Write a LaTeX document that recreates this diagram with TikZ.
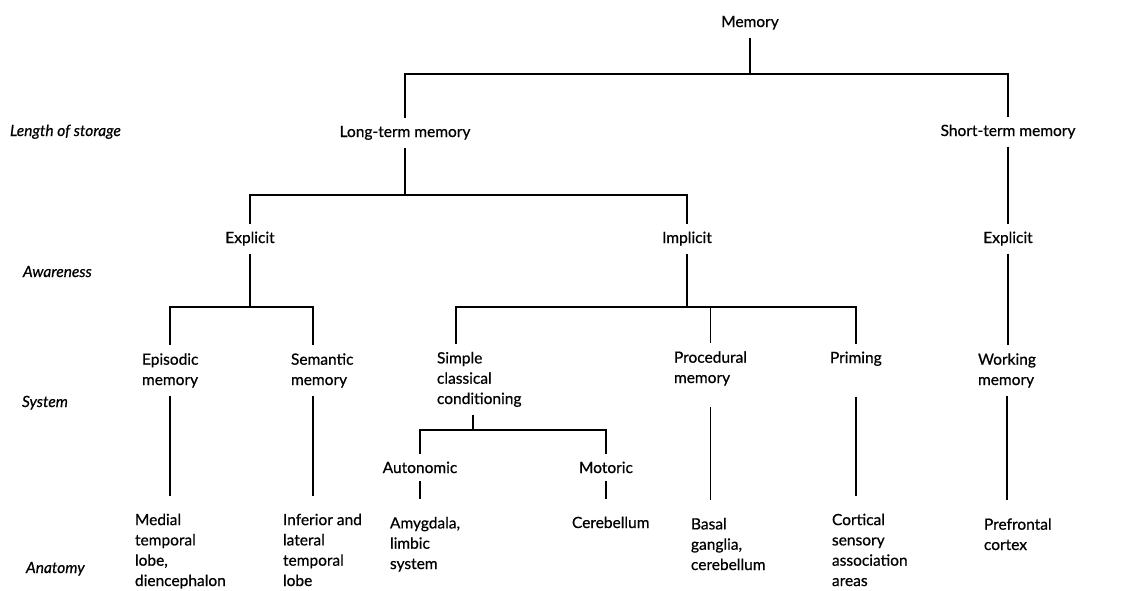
\documentclass[tikz,border=0pt]{standalone}
\usepackage{fontspec}
\setmainfont{Lato}[FakeBold=0.6]
\usetikzlibrary{positioning}
\tikzset{
  tag/.style={inner sep=0pt, outer xsep=0pt, outer ysep=8pt,
    font=\fontsize{15.5}{20.3}\selectfont},
}

\begin{document}
\begin{tikzpicture}[x=1pt, y=-1pt,
  level/.style={tag, anchor=base},
  sys/.style={tag, align=left, anchor=base west},
  area/.style={sys, outer ysep=18pt},
  rowlabel/.style={tag, anchor=base west, font=\fontsize{15.5}{20.3}\selectfont\itshape},
  link/.style={line width=1.8pt}
]
\useasboundingbox (0,0) rectangle (1143,590);

% Row labels
\node[rowlabel] (storage) at (10, 136) {Length of storage};
\node[rowlabel] (awareness) at (23, 277) {Awareness};
\node[rowlabel] (system) at (22, 407) {System};
\node[rowlabel] (anatomy) at (26, 573) {Anatomy};

% Bars
\coordinate (bar0) at (0, 74);
\coordinate (bar1) at (0, 195);
\coordinate (bar2) at (0, 307);
\coordinate (bar3) at (0, 430);

% Storage and awareness
\node[level] (memory) at (750, 27) {Memory};
\node[level] (ltm) at (405, 137) {Long-term memory};
\node[level] (stm) at (1008, 136) {Short-term memory};
\node[level] (explicitL) at (250, 243) {Explicit};
\node[level] (implicit) at (687, 243) {Implicit};
\node[level] (explicitR) at (1008, 243) {Explicit};

% Systems (last line on the baseline)
\node[sys] (episodic) at (142, 385) {Episodic\\memory};
\node[sys] (semantic) at (291, 385) {Semantic\\memory};
\node[sys] (simple) at (437, 404) {Simple\\classical\\conditioning};
\node[sys] (procedural) at (674, 383) {Procedural\\memory};
\node[sys] (priming) at (830, 363) {Priming};
\node[sys] (working) at (978, 385) {Working\\memory};
\node[level] (autonomic) at (420, 473) {Autonomic};
\node[level] (motoric) at (606, 473) {Motoric};

% Anatomy
\node[area] (medial) at (135, 586) {Medial\\temporal\\lobe,\\diencephalon};
\node[area] (inferior) at (283, 586) {Inferior and\\lateral\\temporal\\lobe};
\node[area] (amygdala) at (390, 569) {Amygdala,\\limbic\\system};
\node[area] (cerebellum) at (572, 528) {Cerebellum};
\node[area] (basal) at (691, 570) {Basal\\ganglia,\\cerebellum};
\node[area] (cortical) at (832, 586) {Cortical\\sensory\\association\\areas};
\node[area] (prefrontal) at (984, 550) {Prefrontal\\cortex};

% Tree
\draw[link] (memory.south) -- (memory.south |- bar0) -| (ltm.north);
\draw[link] (memory.south |- bar0) -| (stm.north);
\draw[link] (ltm.south) -- (ltm.south |- bar1) -| (explicitL.north);
\draw[link] (ltm.south |- bar1) -| (implicit.north);
\draw[link] (stm.south) -- (explicitR.north);
\draw[link] (explicitL.south) -- (explicitL.south |- bar2) -| (episodic.north);
\draw[link] (explicitL.south |- bar2) -| ([xshift=-9pt]semantic.north);
\draw[link] (implicit.south) -- (implicit.south |- bar2) -| ([xshift=-23pt]simple.north);
\draw[link] (implicit.south |- bar2) -| (priming.north);
\draw[link] (procedural.north |- bar2) -- (procedural.north);
\draw[link] (explicitR.south) -- (explicitR.south |- working.north);
\draw[link] ([xshift=-6pt]simple.south) -- ([xshift=-6pt]simple.south |- bar3) -| (autonomic.north);
\draw[link] ([xshift=-6pt]simple.south |- bar3) -| (motoric.north);

% Down to anatomy
\draw[link] (episodic.south) -- (episodic.south |- medial.north);
\draw[link] ([xshift=-9pt]semantic.south) -- ([xshift=-9pt]semantic.south |- inferior.north);
\draw[link] (autonomic.south) -- (autonomic.south |- amygdala.north);
\draw[link] (motoric.south) -- (motoric.south |- cerebellum.north);
\draw[link, shorten <=13pt] (procedural.south) -- (procedural.south |- basal.north);
\draw[link, shorten <=23pt] (priming.south) -- (priming.south |- cortical.north);
\draw[link] (working.south) -- (working.south |- prefrontal.north);
\end{tikzpicture}
\end{document}
